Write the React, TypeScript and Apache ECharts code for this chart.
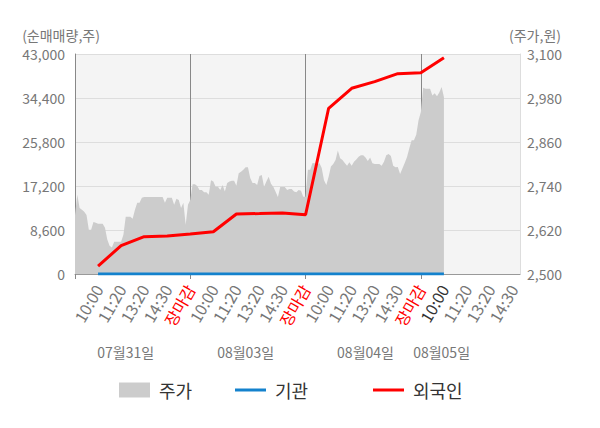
import React, { useEffect, useRef } from 'react';
import * as echarts from 'echarts';

// ---- data ----
const TIME_LABELS = ['10:00', '11:20', '13:20', '14:30', '장마감'];
const DATE_LABELS = ['07월31일', '08월03일', '08월04일', '08월05일'];
const DATE_LABEL_IDX = [22, 74, 126, 159];
const DAY_END_IDX = [50, 100, 150];
const CURRENT_IDX = 160;
const CATEGORY_COUNT = 194;
const SLOT = 10;

const PRICE_0731 = [
  2661, 2716, 2680, 2675, 2670, 2661, 2621, 2621, 2642, 2640,
  2637, 2637, 2637, 2626, 2594, 2577, 2572, 2588, 2588, 2588,
  2588, 2607, 2656, 2656, 2656, 2651, 2675, 2694, 2694, 2708,
  2710, 2710, 2710, 2710, 2710, 2710, 2710, 2710, 2710, 2694,
  2708, 2708, 2708, 2689, 2705, 2702, 2680, 2694, 2634, 2689,
  2702,
];
const PRICE_0803 = [
  2745, 2745, 2740, 2729, 2729, 2723, 2723, 2716, 2756, 2752,
  2738, 2738, 2729, 2743, 2725, 2748, 2752, 2754, 2754, 2741,
  2775, 2779, 2784, 2791, 2791, 2762, 2748, 2748, 2743, 2767,
  2770, 2738, 2752, 2765, 2746, 2738, 2724, 2710, 2737, 2737,
  2737, 2729, 2732, 2732, 2725, 2723, 2729, 2727, 2711, 2711,
];
const PRICE_0804 = [
  2784, 2784, 2803, 2802, 2797, 2803, 2789, 2756, 2743, 2765,
  2793, 2800, 2811, 2837, 2816, 2811, 2803, 2795, 2805, 2795,
  2806, 2812, 2820, 2824, 2824, 2818, 2808, 2818, 2802, 2800,
  2800, 2800, 2795, 2806, 2824, 2827, 2822, 2795, 2791, 2792,
  2773, 2788, 2803, 2819, 2843, 2865, 2865, 2880, 2919, 2942,
];
const PRICE_0805 = [3008, 3005, 3005, 3005, 2987, 2993, 2985, 2995, 3010, 2983];

const LINE_IDX = [10, 20, 30, 40, 50, 60, 70, 80, 90, 100, 110, 120, 130, 140, 150, 160];
const FOREIGN = [1560, 5530, 7290, 7430, 7820, 8270, 11730, 11820, 11920, 11590, 32390, 36300, 37590, 39150, 39340, 42280];
const INSTITUTION = [0, 0, 0, 0, 0, 0, 0, 0, 0, 0, 0, 0, 0, 0, 0, 0];

const LEFT_TICKS = { min: 0, max: 43000, interval: 8600 };
const RIGHT_TICKS = { min: 2500, max: 3100, interval: 120 };

const FONT = 'Noto Sans CJK KR';

function labelText(i: number): string {
  if (i <= 0 || i % SLOT !== 0) return '';
  const k = i / SLOT;
  return TIME_LABELS[(k - 1) % TIME_LABELS.length];
}

export default function App() {
  const ref = useRef<HTMLDivElement>(null);

  useEffect(() => {
    if (!ref.current) return;
    const chart = echarts.init(ref.current, null, { renderer: 'svg' });
    const categories = Array.from({ length: CATEGORY_COUNT }, (_, i) => String(i));
    const price = [...PRICE_0731, ...PRICE_0803, ...PRICE_0804, ...PRICE_0805];
    const foreign = LINE_IDX.map((x, j) => [x, FOREIGN[j]]);
    const inst = LINE_IDX.map((x, j) => [x, INSTITUTION[j]]);
    const lastLabel = SLOT * 19;

    const legendBase = {
      top: 376,
      textStyle: { fontSize: 18, color: '#333', fontFamily: FONT, lineHeight: 18, padding: [0, 0, 0, 4] },
      itemWidth: 31,
      selectedMode: false,
      icon: 'rect',
    };

    chart.setOption({
      animation: false,
      textStyle: { fontFamily: FONT },
      grid: {
        left: 75,
        right: 80,
        top: 54,
        bottom: 154,
        show: true,
        backgroundColor: '#f4f4f4',
        borderWidth: 0,
      },
      legend: [
        { ...legendBase, left: 114, itemHeight: 15, data: ['주가'] },
        { ...legendBase, left: 230, itemHeight: 3, data: ['기관'] },
        { ...legendBase, left: 368, itemHeight: 3, data: ['외국인'] },
      ],
      xAxis: [
        {
          type: 'category',
          data: categories,
          boundaryGap: false,
          axisLine: { show: true, lineStyle: { color: '#999', width: 1 } },
          axisTick: {
            show: true,
            length: 5,
            interval: (i: number) => i === 0 || DAY_END_IDX.includes(i),
            lineStyle: { color: '#888' },
          },
          splitLine: {
            show: true,
            interval: (i: number) => DAY_END_IDX.includes(i),
            lineStyle: { color: '#888', width: 1 },
          },
          axisLabel: {
            interval: (i: number) => i > 0 && i % SLOT === 0 && i <= lastLabel,
            rotate: 60,
            margin: 12,
            fontSize: 16,
            fontFamily: FONT,
            formatter: (v: string) => labelText(Number(v)),
            color: (v: string) => {
              const i = Number(v);
              if (labelText(i) === '장마감') return '#ff0000';
              if (i === CURRENT_IDX) return '#333';
              return '#777';
            },
          },
        },
        {
          type: 'category',
          data: categories,
          boundaryGap: false,
          position: 'bottom',
          offset: 63,
          axisLine: { show: false },
          axisTick: { show: false },
          splitLine: { show: false },
          axisLabel: {
            interval: (i: number) => DATE_LABEL_IDX.includes(i),
            margin: 8,
            fontSize: 14,
            fontFamily: FONT,
            color: '#777',
            formatter: (v: string) => {
              const j = DATE_LABEL_IDX.indexOf(Number(v));
              return j >= 0 ? DATE_LABELS[j] : '';
            },
          },
        },
      ],
      yAxis: [
        {
          type: 'value',
          position: 'left',
          ...LEFT_TICKS,
          name: '(순매매량,주)',
          nameLocation: 'end',
          nameGap: 12,
          nameTextStyle: { fontSize: 14, color: '#777', fontFamily: FONT, align: 'center', padding: [0, 28, 0, 0] },
          axisLine: { show: true, lineStyle: { color: '#888' } },
          axisTick: { show: false },
          splitLine: { show: true, lineStyle: { color: '#dddddd' } },
          axisLabel: { fontSize: 14, color: '#777', margin: 10, fontFamily: FONT },
        },
        {
          type: 'value',
          position: 'right',
          ...RIGHT_TICKS,
          name: '(주가,원)',
          nameLocation: 'end',
          nameGap: 12,
          nameTextStyle: { fontSize: 14, color: '#777', fontFamily: FONT, align: 'center', padding: [0, 0, 0, 30] },
          axisLine: { show: true, lineStyle: { color: '#dddddd' } },
          axisTick: { show: false },
          splitLine: { show: false },
          axisLabel: { fontSize: 14, color: '#777', margin: 7, fontFamily: FONT },
        },
      ],
      series: [
        {
          name: '주가',
          type: 'line',
          xAxisIndex: 0,
          yAxisIndex: 1,
          data: price,
          showSymbol: false,
          symbol: 'none',
          lineStyle: { width: 0, color: '#cccccc' },
          itemStyle: { color: '#cccccc' },
          areaStyle: { color: '#cccccc', opacity: 1, origin: 'start' },
          z: 1,
        },
        {
          name: '기관',
          type: 'line',
          xAxisIndex: 0,
          yAxisIndex: 0,
          data: inst,
          showSymbol: false,
          symbol: 'none',
          lineStyle: { width: 3, color: '#1482cd' },
          itemStyle: { color: '#1482cd' },
          z: 3,
        },
        {
          name: '외국인',
          type: 'line',
          xAxisIndex: 0,
          yAxisIndex: 0,
          data: foreign,
          showSymbol: false,
          symbol: 'none',
          lineStyle: { width: 3, color: '#ff0000' },
          itemStyle: { color: '#ff0000' },
          z: 4,
        },
      ],
    });
    return () => chart.dispose();
  }, []);

  return (
    <div
      ref={ref}
      style={{ position: 'fixed', left: 0, top: 0, width: 600, height: 428, background: '#fff' }}
    />
  );
}
